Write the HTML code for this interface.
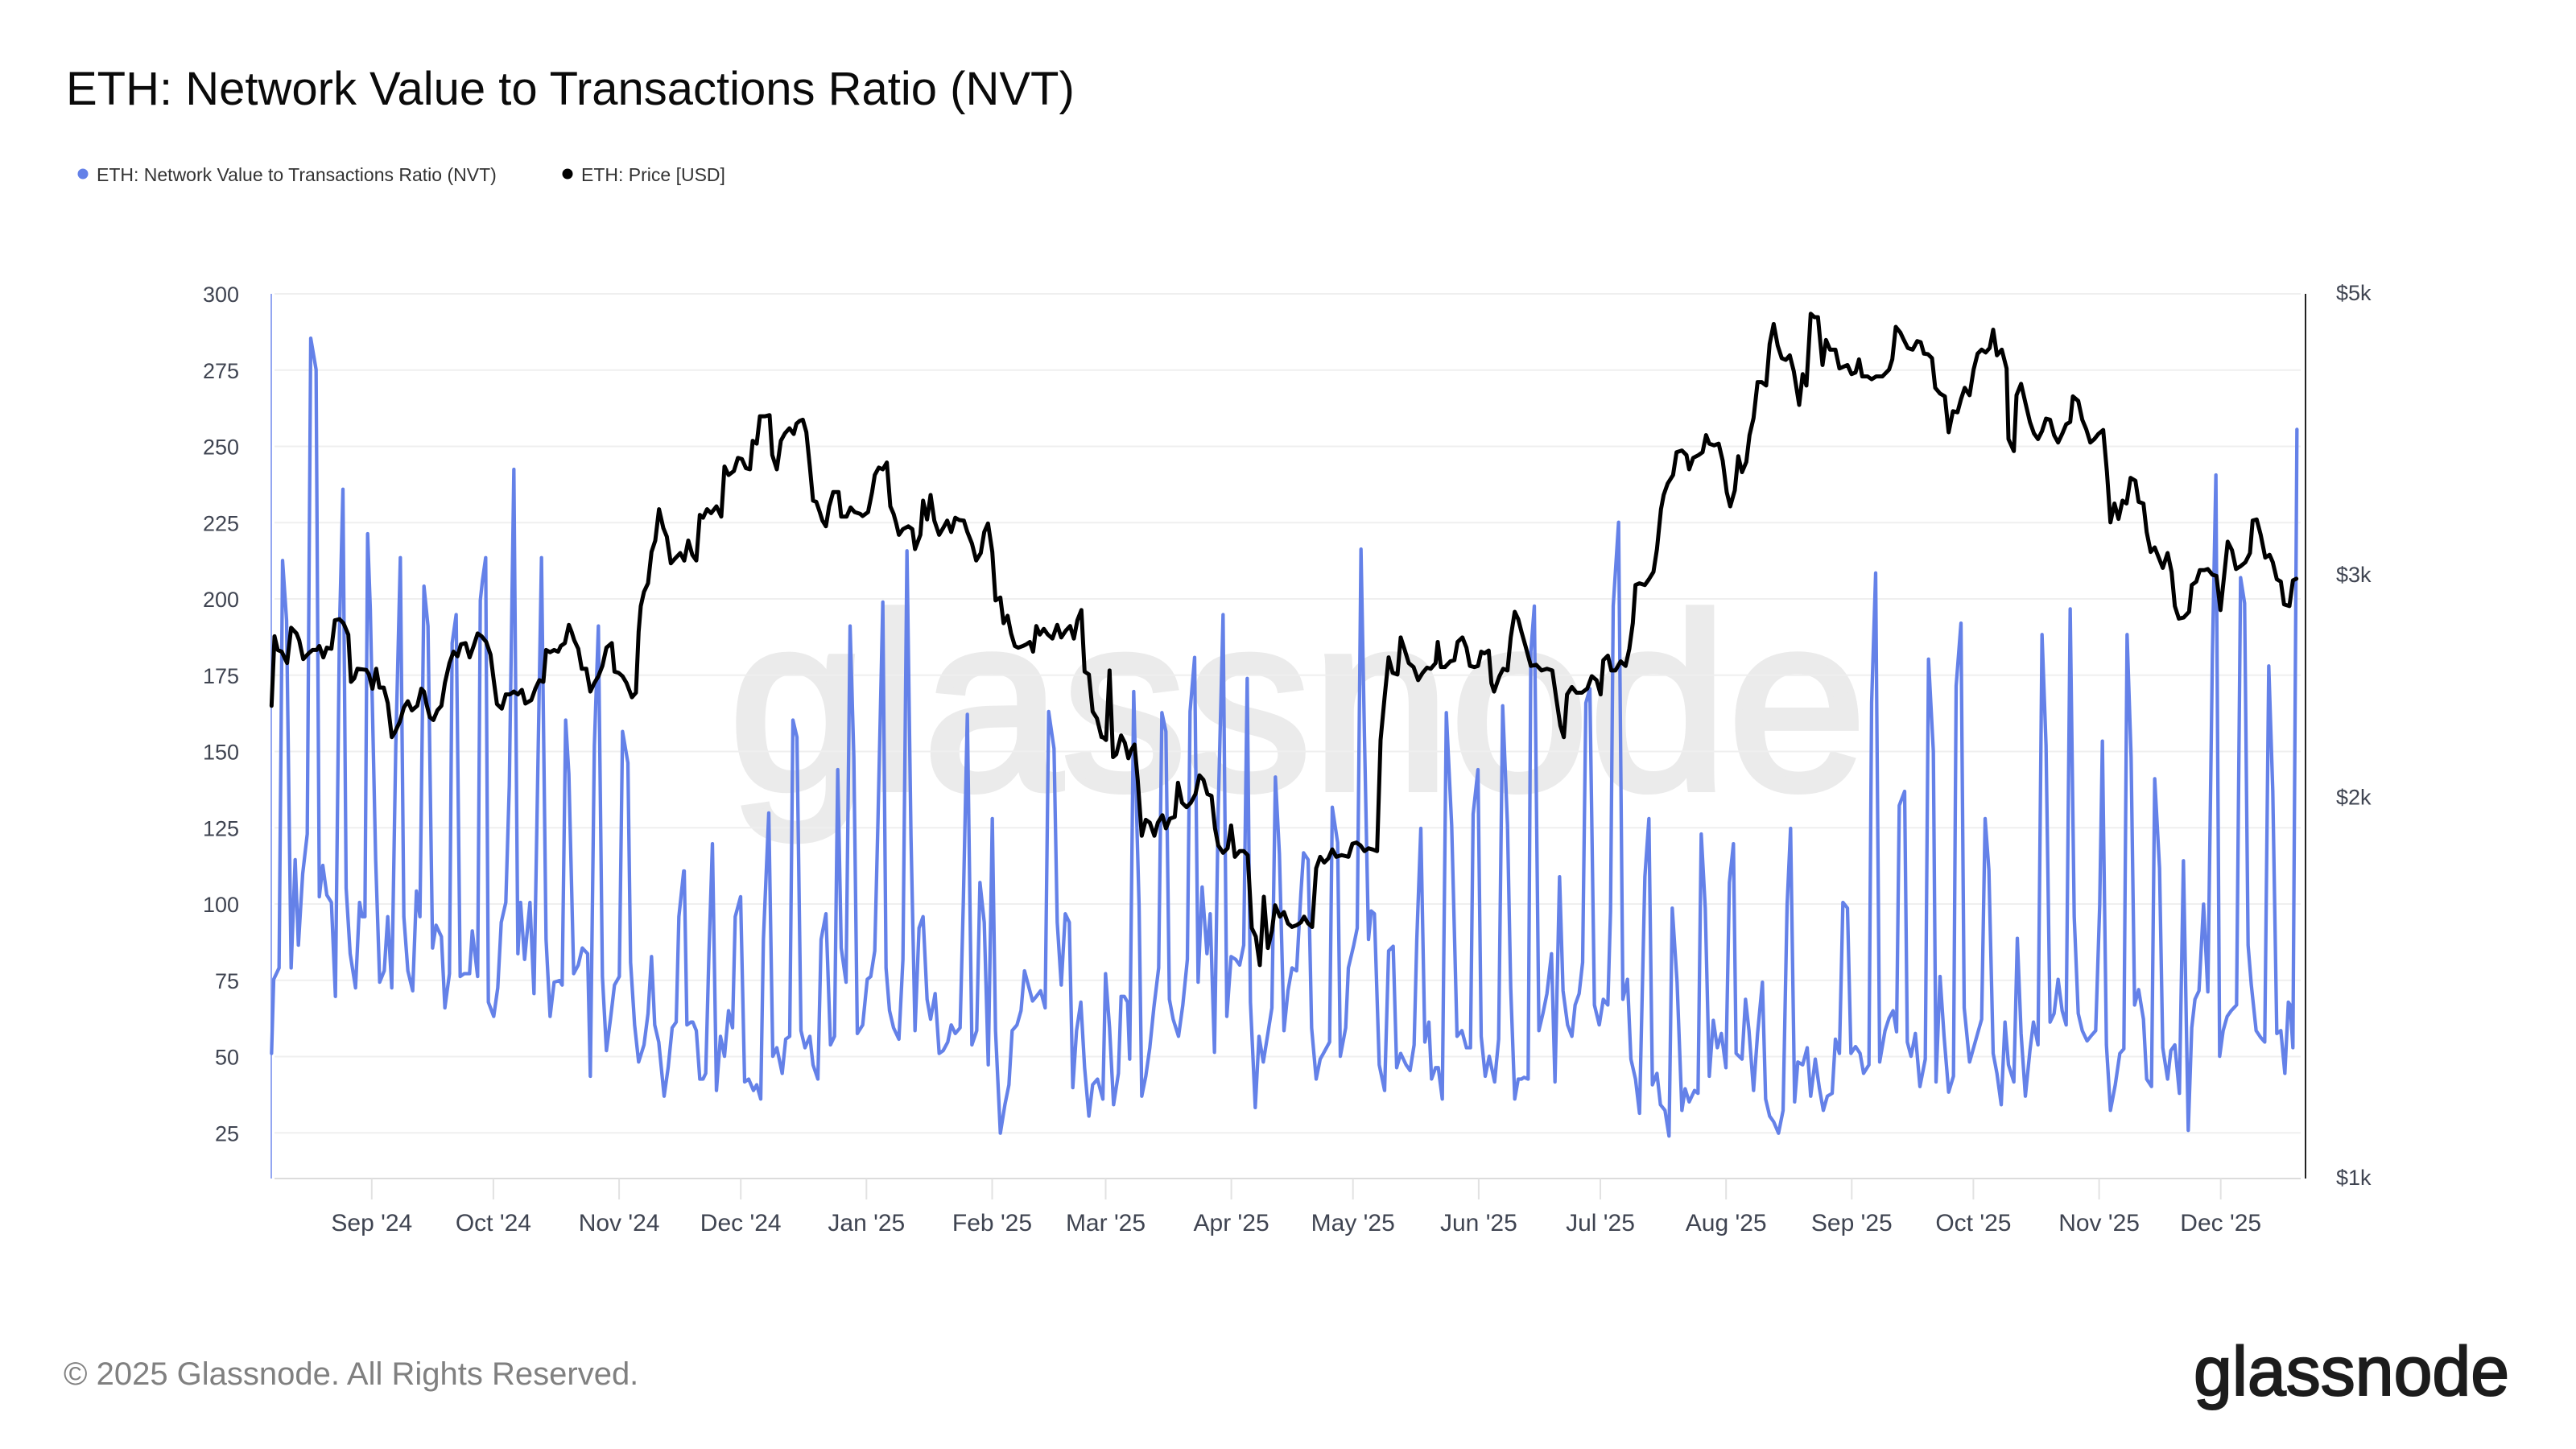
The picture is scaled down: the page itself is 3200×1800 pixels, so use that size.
<!DOCTYPE html>
<html><head><meta charset="utf-8"><style>
html,body{margin:0;padding:0;background:#fff;}
body{width:3200px;height:1800px;overflow:hidden;}
svg{display:block;font-family:"Liberation Sans",Arial,sans-serif;}
</style></head><body>
<svg width="3200" height="1800" viewBox="0 0 3200 1800" xmlns="http://www.w3.org/2000/svg">
<rect width="3200" height="1800" fill="#fff"/>
<text x="82" y="130" font-size="58" fill="#0a0a0a">ETH: Network Value to Transactions Ratio (NVT)</text>
<circle cx="103" cy="216" r="6.5" fill="#6481e8"/>
<text x="120" y="225" font-size="23" fill="#333">ETH: Network Value to Transactions Ratio (NVT)</text>
<circle cx="705" cy="216" r="6.5" fill="#000"/>
<text x="722" y="225" font-size="23" fill="#333">ETH: Price [USD]</text>
<text x="1612" y="980" font-size="310" text-anchor="middle" fill="#ebebeb" stroke="#ebebeb" stroke-width="8">glassnode</text>
<g stroke="#efefef" stroke-width="2">
<line x1="341" y1="365" x2="2858" y2="365"/><line x1="341" y1="459.75" x2="2858" y2="459.75"/><line x1="341" y1="554.5" x2="2858" y2="554.5"/><line x1="341" y1="649.25" x2="2858" y2="649.25"/><line x1="341" y1="744" x2="2858" y2="744"/><line x1="341" y1="838.75" x2="2858" y2="838.75"/><line x1="341" y1="933.5" x2="2858" y2="933.5"/><line x1="341" y1="1028.25" x2="2858" y2="1028.25"/><line x1="341" y1="1123" x2="2858" y2="1123"/><line x1="341" y1="1217.75" x2="2858" y2="1217.75"/><line x1="341" y1="1312.5" x2="2858" y2="1312.5"/><line x1="341" y1="1407.25" x2="2858" y2="1407.25"/>
</g>
<line x1="341" y1="1464" x2="2858" y2="1464" stroke="#dcdcdc" stroke-width="2"/>
<g stroke="#e2e2e2" stroke-width="2">
<line x1="461.8" y1="1464" x2="461.8" y2="1490"/><line x1="612.9" y1="1464" x2="612.9" y2="1490"/><line x1="769.1" y1="1464" x2="769.1" y2="1490"/><line x1="920.2" y1="1464" x2="920.2" y2="1490"/><line x1="1076.3" y1="1464" x2="1076.3" y2="1490"/><line x1="1232.5" y1="1464" x2="1232.5" y2="1490"/><line x1="1373.5" y1="1464" x2="1373.5" y2="1490"/><line x1="1529.6" y1="1464" x2="1529.6" y2="1490"/><line x1="1680.7" y1="1464" x2="1680.7" y2="1490"/><line x1="1836.9" y1="1464" x2="1836.9" y2="1490"/><line x1="1988" y1="1464" x2="1988" y2="1490"/><line x1="2144.2" y1="1464" x2="2144.2" y2="1490"/><line x1="2300.3" y1="1464" x2="2300.3" y2="1490"/><line x1="2451.4" y1="1464" x2="2451.4" y2="1490"/><line x1="2607.6" y1="1464" x2="2607.6" y2="1490"/><line x1="2758.7" y1="1464" x2="2758.7" y2="1490"/>
</g>
<g font-size="30" fill="#3f4451" text-anchor="middle">
<text x="461.8" y="1529">Sep '24</text><text x="612.9" y="1529">Oct '24</text><text x="769.1" y="1529">Nov '24</text><text x="920.2" y="1529">Dec '24</text><text x="1076.3" y="1529">Jan '25</text><text x="1232.5" y="1529">Feb '25</text><text x="1373.5" y="1529">Mar '25</text><text x="1529.6" y="1529">Apr '25</text><text x="1680.7" y="1529">May '25</text><text x="1836.9" y="1529">Jun '25</text><text x="1988" y="1529">Jul '25</text><text x="2144.2" y="1529">Aug '25</text><text x="2300.3" y="1529">Sep '25</text><text x="2451.4" y="1529">Oct '25</text><text x="2607.6" y="1529">Nov '25</text><text x="2758.7" y="1529">Dec '25</text>
</g>
<g font-size="27" fill="#3f4451" text-anchor="end">
<text x="297" y="375">300</text><text x="297" y="469.75">275</text><text x="297" y="564.5">250</text><text x="297" y="659.25">225</text><text x="297" y="754">200</text><text x="297" y="848.75">175</text><text x="297" y="943.5">150</text><text x="297" y="1038.25">125</text><text x="297" y="1133">100</text><text x="297" y="1227.75">75</text><text x="297" y="1322.5">50</text><text x="297" y="1417.25">25</text>
</g>
<g font-size="27" fill="#3f4451">
<text x="2902" y="373">$5k</text><text x="2902" y="722.8">$3k</text><text x="2902" y="999.6">$2k</text><text x="2902" y="1472">$1k</text>
</g>
<line x1="337" y1="365" x2="337" y2="1464" stroke="#93a6f1" stroke-width="2"/>
<line x1="2864" y1="365" x2="2864" y2="1464" stroke="#222" stroke-width="2"/>

<g fill="none" stroke="#6481e8" stroke-width="4.3" stroke-linejoin="round" stroke-linecap="round">
<polyline vector-effect="non-scaling-stroke" transform="translate(330,360) scale(0.333333,0.70792)" points="22,1340 30,1210 50,1190 63,475 78,580 95,1190 110,1000 122,1150 138,1025 155,955 168,85 188,140 200,1065 213,1010 228,1062 245,1075 260,1240 275,600 288,350 300,1050 315,1165 335,1225 350,1075 360,1100 370,1100 380,428 390,560 410,1000 425,1215 442,1195 455,1100 470,1225 485,800 502,470 515,1100 530,1195 548,1230 562,1055 575,1100 590,520 605,590 622,1155 635,1115 655,1135 668,1260 685,1200 695,620 710,570 725,1205 740,1200 760,1200 770,1125 790,1205 800,545 808,510 820,470 830,1250 850,1275 865,1225 878,1110 895,1075 908,870 925,315 940,1165 950,1075 965,1175 985,1075 1000,1235 1028,470 1045,1140 1060,1275 1075,1215 1095,1212 1105,1220 1118,755 1130,850 1148,1200 1165,1185 1180,1155 1200,1165 1210,1380 1225,800 1240,590 1255,1205 1270,1335 1285,1280 1300,1220 1318,1205 1330,775 1350,830 1360,1180 1375,1290 1390,1355 1410,1325 1425,1270 1438,1170 1450,1290 1465,1320 1485,1415 1500,1365 1515,1295 1530,1285 1540,1100 1558,1020 1560,1020"/>
<polyline vector-effect="non-scaling-stroke" transform="translate(850,360) scale(0.333333,0.70792)" points="0,1020 10,1290 25,1285 32,1285 45,1300 58,1385 70,1385 80,1375 92,1165 105,972 120,1405 135,1310 150,1345 165,1265 180,1295 190,1100 210,1065 225,1390 240,1385 258,1405 270,1395 285,1420 295,1140 315,918 330,1345 345,1330 365,1375 378,1315 393,1310 405,755 420,785 435,1300 450,1330 468,1310 480,1360 498,1385 510,1140 528,1095 545,1325 560,1310 572,842 585,1155 603,1215 618,590 632,820 645,1305 665,1290 682,1210 695,1205 710,1160 722,930 740,548 752,1190 765,1265 780,1295 800,1315 815,1175 830,458 845,960 860,1300 875,1120 890,1100 905,1245 918,1280 935,1235 950,1340 965,1335 982,1320 995,1290 1010,1305 1028,1295 1040,1075 1055,745 1072,1325 1090,1300 1102,1040 1118,1110 1133,1360 1148,928 1160,1300 1178,1480 1195,1430 1210,1395 1222,1300 1240,1290 1255,1265 1268,1195 1285,1225 1298,1248 1312,1240 1328,1230 1345,1260 1358,740 1378,805 1390,1110 1405,1220 1420,1095 1435,1110 1448,1400 1462,1300 1478,1250 1492,1365 1508,1450 1522,1395 1540,1385 1560,1420"/>
<polyline vector-effect="non-scaling-stroke" transform="translate(1370,360) scale(0.333333,0.70792)" points="0,1420 10,1200 25,1295 40,1430 58,1375 68,1240 80,1240 92,1250 100,1350 115,705 128,960 135,1080 145,1415 160,1380 175,1330 190,1260 208,1190 220,742 235,775 248,1245 262,1280 282,1310 298,1255 315,1175 325,740 342,645 355,1215 370,1048 388,1165 400,1095 416,1338 430,910 448,570 462,1275 478,1170 495,1175 510,1185 525,1150 538,682 550,1250 568,1435 582,1310 598,1355 615,1305 630,1260 643,855 658,990 675,1300 690,1230 705,1190 722,1195 738,1060 748,988 765,1000 778,1295 795,1385 810,1350 822,1340 845,1320 855,908 875,970 885,1345 905,1295 915,1190 935,1150 948,1120 962,455 975,785 990,1140 1000,1090 1012,1095 1030,1360 1050,1405 1065,1160 1082,1152 1095,1365 1110,1340 1130,1360 1145,1370 1160,1325 1170,1140 1185,945 1200,1320 1215,1285 1225,1385 1240,1365 1250,1365 1265,1420 1280,742 1300,940 1320,1310 1338,1300 1355,1330 1370,1330 1380,920 1398,842 1410,1310 1425,1380 1440,1345 1460,1390 1475,1315 1490,730 1508,940 1520,1225 1535,1420 1548,1385 1560,1385"/>
<polyline vector-effect="non-scaling-stroke" transform="translate(1890,360) scale(0.333333,0.70792)" points="0,1385 10,1382 25,1385 35,635 48,555 65,1300 80,1270 95,1235 112,1165 125,1390 142,1030 155,1230 172,1290 188,1310 200,1255 215,1235 228,1180 240,725 255,700 272,1255 290,1290 305,1245 322,1255 332,1090 342,555 362,408 378,1245 395,1210 408,1350 425,1385 440,1445 460,1030 475,928 488,1395 505,1375 518,1430 535,1440 550,1485 562,1085 580,1215 598,1440 610,1402 625,1425 645,1405 658,1410 670,955 685,1085 700,1380 715,1282 730,1330 745,1305 762,1365 775,1040 790,972 800,1340 822,1350 835,1245 848,1300 865,1405 880,1305 898,1215 910,1420 925,1450 940,1460 958,1480 975,1440 990,1080 1003,945 1018,1425 1030,1355 1048,1360 1065,1330 1078,1415 1095,1350 1110,1400 1125,1440 1140,1415 1158,1410 1170,1315 1185,1340 1198,1075 1215,1085 1228,1340 1245,1328 1262,1340 1275,1375 1295,1360 1305,725 1320,497 1335,1355 1355,1300 1370,1278 1385,1265 1398,1302 1408,905 1428,880 1438,1320 1452,1345 1468,1305 1485,1398 1505,1350 1517,648 1535,810 1545,1390 1560,1205"/>
<polyline vector-effect="non-scaling-stroke" transform="translate(2400,360) scale(0.333333,0.70792)" points="30,1205 45,1310 62,1408 80,1380 90,695 108,585 120,1260 140,1355 155,1330 170,1305 185,1280 198,928 212,1018 228,1340 242,1375 258,1430 272,1285 285,1360 305,1390 318,1138 332,1305 348,1415 365,1335 378,1285 395,1325 410,605 425,800 440,1285 455,1270 470,1210 485,1265 500,1290 515,560 530,1100 545,1270 560,1300 578,1318 595,1308 610,1300 625,1080 635,792 650,1325 665,1440 683,1395 700,1340 715,1332 727,605 742,820 755,1255 770,1228 788,1280 800,1385 818,1398 830,858 848,1015 860,1330 878,1385 890,1335 905,1325 922,1410 937,1002 955,1475 968,1295 980,1245 995,1230 1012,1078 1028,1232 1045,640 1058,325 1072,1345 1085,1300 1100,1275 1115,1265 1135,1255 1150,505 1165,550 1178,1150 1190,1220 1208,1300 1225,1312 1240,1320 1255,660 1270,880 1285,1305 1300,1300 1315,1375 1328,1250 1335,1255 1345,1330 1360,245"/>
</g>

<g fill="none" stroke="#000" stroke-width="5" stroke-linejoin="round" stroke-linecap="round">
<polyline vector-effect="non-scaling-stroke" transform="translate(330,360) scale(0.333333,0.70792)" points="22,730 33,608 45,632 60,635 80,655 95,593 115,603 125,615 140,648 160,638 175,632 190,632 200,625 215,645 228,628 245,630 258,580 275,578 290,585 308,605 318,688 330,682 342,665 375,667 385,675 398,700 412,665 424,698 440,698 455,725 470,785 480,778 500,758 515,733 530,722 545,738 565,730 580,700 590,705 600,728 612,750 625,755 640,738 655,730 668,690 685,655 700,635 715,643 728,622 745,620 760,645 775,625 790,603 805,608 822,618 838,640 850,685 862,727 880,735 895,710 910,710 925,705 940,710 955,702 968,726 990,720 1005,700 1020,685 1035,688 1045,632 1060,636 1075,632 1090,635 1100,625 1115,620 1130,588 1140,600 1150,615 1165,630 1178,665 1195,665 1210,705 1225,690 1240,678 1255,660 1270,628 1290,620 1300,670 1315,672 1330,678 1345,690 1365,715 1380,707 1390,600 1398,555 1410,530 1425,515 1438,460 1452,440 1466,385 1482,418 1495,433 1510,480 1525,472 1545,462 1560,475"/>
<polyline vector-effect="non-scaling-stroke" transform="translate(850,360) scale(0.333333,0.70792)" points="0,475 15,440 30,465 45,475 58,395 70,400 85,385 100,392 120,380 138,398 150,310 165,325 185,318 200,295 215,297 230,313 245,315 255,265 270,270 282,222 300,222 318,220 328,290 345,315 360,265 375,252 392,243 408,253 418,235 430,230 442,228 455,250 468,310 480,370 492,372 505,390 515,405 528,415 540,380 555,355 575,355 585,398 605,398 620,382 635,390 655,393 665,397 685,390 700,355 710,325 725,312 740,315 755,303 768,380 780,393 790,410 800,430 815,420 835,415 850,420 860,455 880,430 890,370 905,403 918,360 932,405 950,430 965,418 980,405 995,425 1010,400 1025,404 1042,405 1055,425 1072,445 1088,475 1105,462 1118,425 1132,410 1148,460 1160,545 1178,540 1190,585 1205,572 1218,603 1232,625 1245,628 1262,625 1275,622 1288,618 1300,635 1312,590 1325,605 1340,595 1355,605 1372,612 1390,588 1405,610 1422,598 1438,590 1452,612 1465,580 1480,562 1492,670 1508,675 1522,740 1538,752 1555,785 1560,785"/>
<polyline vector-effect="non-scaling-stroke" transform="translate(1370,360) scale(0.333333,0.70792)" points="0,785 12,790 25,668 38,820 50,815 68,782 82,795 95,822 105,808 118,798 130,860 145,958 160,930 175,935 192,958 205,935 222,922 235,945 250,928 268,925 280,865 295,900 312,908 328,900 345,885 360,852 375,860 390,885 405,888 418,945 430,975 448,988 465,980 478,940 492,995 510,985 525,985 540,992 555,1120 570,1135 585,1185 600,1065 615,1155 630,1125 642,1080 660,1100 675,1092 690,1112 705,1118 722,1115 738,1110 750,1100 765,1112 780,1118 795,1015 810,995 825,1005 840,998 855,982 870,995 890,992 915,995 930,972 945,970 960,975 975,985 990,980 1005,982 1022,985 1035,790 1050,715 1065,645 1080,672 1098,675 1110,610 1125,632 1140,655 1158,662 1175,685 1192,672 1208,663 1222,665 1240,655 1248,618 1260,662 1275,662 1295,652 1310,650 1322,618 1340,610 1355,628 1368,660 1385,662 1398,660 1410,635 1422,638 1438,633 1448,690 1458,705 1478,678 1492,665 1508,668 1520,610 1535,565 1548,578 1560,600"/>
<polyline vector-effect="non-scaling-stroke" transform="translate(1890,360) scale(0.333333,0.70792)" points="0,600 15,625 35,660 55,658 75,668 95,665 115,668 130,718 145,765 158,785 170,710 188,697 205,707 225,707 245,700 262,678 280,685 295,710 305,650 322,642 335,668 350,668 370,652 388,660 402,630 415,585 425,518 440,515 460,518 475,508 492,495 505,455 520,385 530,360 545,340 565,325 578,285 598,282 615,290 625,315 640,295 660,290 675,285 688,255 700,270 718,273 735,270 750,300 765,355 778,380 795,352 808,292 822,320 838,302 850,255 865,225 880,162 895,162 912,168 925,95 940,60 955,98 970,120 985,123 1000,115 1015,143 1035,202 1048,148 1062,168 1078,42 1092,48 1105,48 1122,132 1135,88 1150,105 1170,105 1185,138 1200,135 1215,132 1230,148 1245,145 1258,122 1270,152 1290,152 1305,157 1322,152 1345,152 1370,140 1382,122 1395,65 1412,75 1425,88 1440,102 1458,105 1475,90 1488,92 1500,112 1515,113 1530,120 1542,172 1560,182"/>
<polyline vector-effect="non-scaling-stroke" transform="translate(2400,360) scale(0.333333,0.70792)" points="30,182 48,187 62,250 78,213 95,215 108,192 122,172 140,185 155,140 170,112 185,105 200,110 215,102 228,70 242,115 260,105 278,138 285,262 305,283 315,185 332,165 348,198 365,232 380,252 395,262 410,248 425,226 440,228 455,255 470,268 485,253 500,236 515,232 525,187 545,195 560,228 575,245 590,268 605,262 620,253 638,246 652,320 665,408 680,375 695,402 710,370 725,375 740,330 758,335 770,372 788,375 800,425 815,460 830,452 845,470 860,488 878,462 893,495 905,555 920,577 938,575 958,565 968,518 985,512 998,492 1015,492 1028,490 1045,500 1060,502 1075,562 1088,505 1102,442 1118,457 1133,490 1150,485 1168,478 1185,462 1195,405 1210,403 1225,430 1242,470 1258,465 1270,478 1285,508 1300,512 1312,552 1332,555 1345,510 1358,507"/>
</g>

<text x="79" y="1720" font-size="40" fill="#808080">© 2025 Glassnode. All Rights Reserved.</text>
<text x="2725" y="1733" font-size="86" fill="#1c1c1c" stroke="#1c1c1c" stroke-width="2">glassnode</text>
</svg>
</body></html>
